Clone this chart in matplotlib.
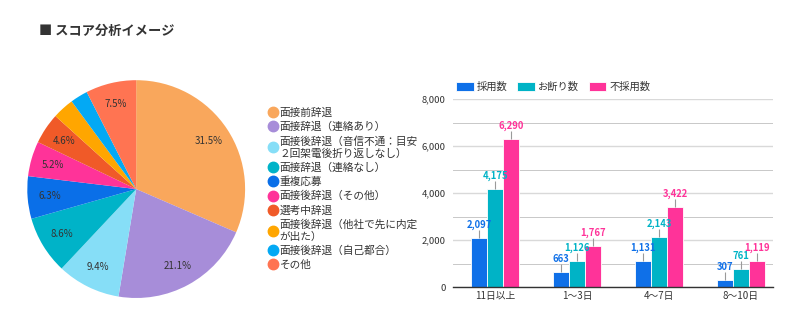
import numpy as np
import matplotlib
matplotlib.use('Agg')
from matplotlib import pyplot as plt
from matplotlib.lines import Line2D
from matplotlib.ticker import FuncFormatter, MultipleLocator

plt.rcParams['font.family'] = ['Noto Sans CJK JP', 'DejaVu Sans']

# pie data
pie_labels = ['面接前辞退', '面接辞退（連絡あり）', '面接後辞退（音信不通：目安\n２回架電後折り返しなし）',
              '面接辞退（連絡なし）', '重複応募', '面接後辞退（その他）', '選考中辞退',
              '面接後辞退（他社で先に内定\nが出た）', '面接後辞退（自己都合）', 'その他']
pie_values = [31.5, 21.1, 9.4, 8.6, 6.3, 5.2, 4.6, 3.2, 2.6, 7.5]
pie_colors = ['#f9a75c', '#a78dd9', '#86def7', '#00b3c8', '#0a6fe8', '#ff3399',
              '#f05a28', '#ffa600', '#03a9f4', '#ff7452']

# bar data
categories = ['11日以上', '1〜3日', '4〜7日', '8〜10日']
series_names = ['採用数', 'お断り数', '不採用数']
hired = [2097, 663, 1131, 307]
declined = [4175, 1126, 2143, 761]
rejected = [6290, 1767, 3422, 1119]
bar_colors = ['#0f70e8', '#00b3c6', '#ff3399']

fig = plt.figure(figsize=(8, 3.3), dpi=100)
fig.text(0.049, 0.905, '■ スコア分析イメージ', fontsize=9.5, fontweight='bold', color='#333333',
         va='center', ha='left')

# pie
ax1 = fig.add_axes([0.034, 0.097, 0.2725, 0.66])
wedges, _ = ax1.pie(pie_values, colors=pie_colors, startangle=90, counterclock=False,
                    wedgeprops=dict(linewidth=0))
for w, v in zip(wedges, pie_values):
    if v < 4:
        continue
    ang = np.deg2rad((w.theta1 + w.theta2) / 2)
    ax1.text(0.8 * np.cos(ang), 0.8 * np.sin(ang), f'{v}%', ha='center', va='center',
             fontsize=7, color='#333333')
ax1.set_xlim(-1, 1)
ax1.set_ylim(-1, 1)
ax1.set_aspect('equal')

handles = [Line2D([], [], marker='o', linestyle='', markersize=7.5, markerfacecolor=c,
                  markeredgecolor=c) for c in pie_colors]
fig.legend(handles, pie_labels, loc='upper left', bbox_to_anchor=(0.326, 0.69), frameon=False,
           fontsize=7.7, handletextpad=0.05, labelspacing=0.36, borderpad=0, handlelength=1.2,
           labelcolor='#333333')

# bars
ax2 = fig.add_axes([0.566, 0.13, 0.4, 0.57])
x = np.arange(len(categories))
w = 0.195
for i, (vals, c, name) in enumerate(zip([hired, declined, rejected], bar_colors, series_names)):
    pos = x + (i - 1) * w
    ax2.bar(pos, vals, width=w, color=c, edgecolor='#ffffff', linewidth=0.6, label=name, zorder=3)
    ax2.errorbar(pos, vals, yerr=[[0] * len(vals), [330] * len(vals)], fmt='none',
                 ecolor='#9a9a9a', elinewidth=0.8, capsize=0, zorder=4)
    for p, v in zip(pos, vals):
        ax2.text(p, v + 340, f'{v:,}', ha='center', va='bottom', fontsize=6.8,
                 fontweight='bold', color=c, zorder=5)

ax2.set_xlim(-0.52, 3.39)
ax2.set_ylim(0, 8000)
ax2.set_xticks(x)
ax2.set_xticklabels(categories, fontsize=7, color='#333333')
ax2.yaxis.set_major_locator(MultipleLocator(2000))
ax2.yaxis.set_minor_locator(MultipleLocator(1000))
ax2.yaxis.set_major_formatter(FuncFormatter(lambda v, p: f'{int(v):,}'))
ax2.tick_params(axis='y', labelsize=6.8, labelcolor='#333333', length=0, which='both', pad=5)
ax2.tick_params(axis='x', length=0, pad=3)
ax2.grid(axis='y', which='major', color='#d9d9d9', linewidth=1.0, zorder=0)
ax2.grid(axis='y', which='minor', color='#c8c8c8', linewidth=0.7, zorder=0)
for s in ['top', 'right', 'left']:
    ax2.spines[s].set_visible(False)
ax2.spines['bottom'].set_color('#333333')
ax2.spines['bottom'].set_linewidth(1.0)
ax2.spines['bottom'].set_zorder(6)

ax2.legend(loc='lower left', bbox_to_anchor=(-0.005, 1.01), ncol=3, frameon=False, fontsize=7.4,
           handlelength=1.7, handleheight=0.9, handletextpad=0.3, columnspacing=0.95, borderpad=0,
           labelcolor='#333333')

fig.savefig('out.png', dpi=100)
